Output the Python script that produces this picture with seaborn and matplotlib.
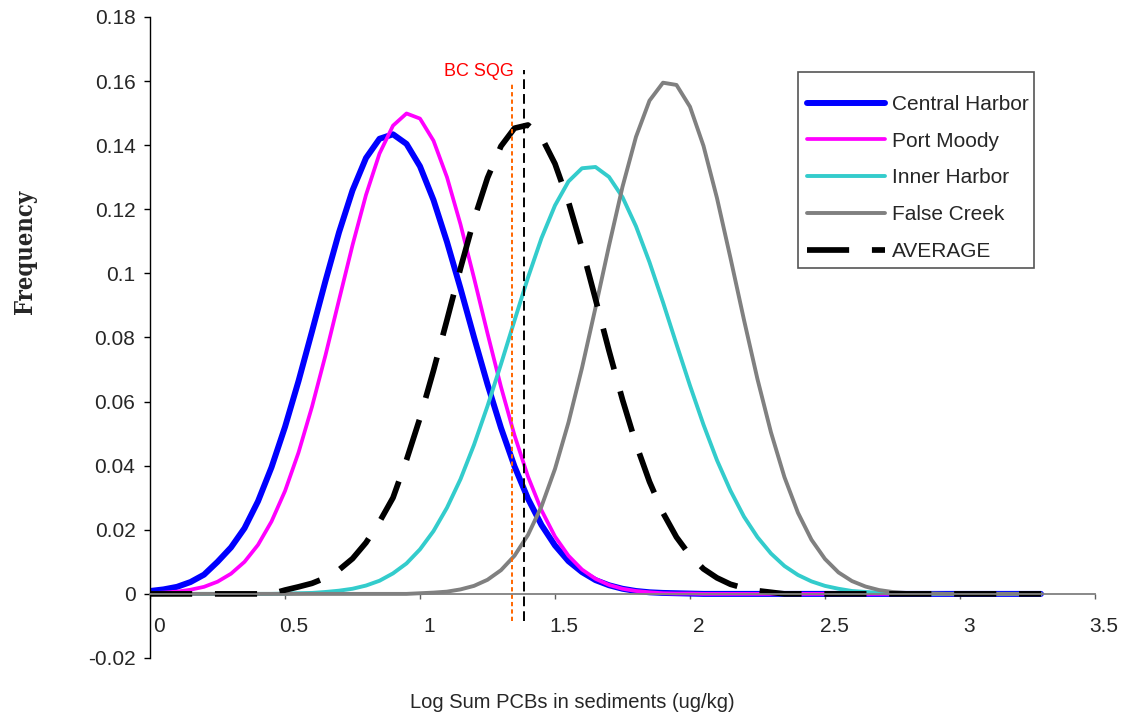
import numpy as np
import matplotlib.pyplot as plt
import matplotlib.transforms as mtransforms
from matplotlib.patches import Rectangle
import seaborn as sns

sns.set_style("white")
plt.rcParams["font.family"] = ["Liberation Sans", "DejaVu Sans"]

# log sum PCB grid (0 to 3.3, step 0.05)
log_pcb = np.linspace(0, 3.3, 67)

central_harbor = [0.0009, 0.0014, 0.0022, 0.0037, 0.0060, 0.0100, 0.0145, 0.0205, 0.0289, 0.0395,
                  0.0521, 0.0664, 0.0819, 0.0977, 0.1128, 0.1259, 0.1360, 0.1420, 0.1434, 0.1404,
                  0.1334, 0.1229, 0.1098, 0.0953, 0.0801, 0.0654, 0.0518, 0.0398, 0.0297, 0.0215,
                  0.0151, 0.0102, 0.0068, 0.0043, 0.0027, 0.0016, 0.0009, 0.0005, 0.0003, 0.0002,
                  0.0001] + [0.0] * 26

port_moody = [0.0002, 0.0004, 0.0007, 0.0013, 0.0022, 0.0038, 0.0063, 0.0100, 0.0153, 0.0226,
              0.0321, 0.0441, 0.0584, 0.0745, 0.0917, 0.1088, 0.1245, 0.1374, 0.1461, 0.1499,
              0.1483, 0.1414, 0.1300, 0.1153, 0.0986, 0.0813, 0.0646, 0.0495, 0.0366, 0.0261,
              0.0179, 0.0119, 0.0076, 0.0047, 0.0028, 0.0016, 0.0009, 0.0005, 0.0002, 0.0001,
              0.0001] + [0.0] * 26

inner_harbor = [0.0] * 10 + [0.0001, 0.0002, 0.0003, 0.0006, 0.0010, 0.0016, 0.0026, 0.0041, 0.0064, 0.0095,
                             0.0139, 0.0196, 0.0269, 0.0358, 0.0465, 0.0586, 0.0717, 0.0853, 0.0987, 0.1110,
                             0.1212, 0.1287, 0.1328, 0.1332, 0.1301, 0.1238, 0.1147, 0.1035, 0.0910, 0.0779,
                             0.0650, 0.0528, 0.0417, 0.0322, 0.0241, 0.0177, 0.0126, 0.0087, 0.0059, 0.0039,
                             0.0025, 0.0016, 0.0009, 0.0006, 0.0003, 0.0002, 0.0001, 0.0001] + [0.0] * 9

false_creek = [0.0] * 20 + [0.0002, 0.0004, 0.0007, 0.0014, 0.0025, 0.0044, 0.0074, 0.0119, 0.0184, 0.0273,
                            0.0390, 0.0535, 0.0705, 0.0893, 0.1086, 0.1270, 0.1426, 0.1539, 0.1595, 0.1588,
                            0.1520, 0.1398, 0.1235, 0.1048, 0.0855, 0.0670, 0.0504, 0.0364, 0.0253, 0.0169,
                            0.0109, 0.0067, 0.0040, 0.0023, 0.0012, 0.0006, 0.0003, 0.0002, 0.0001] + [0.0] * 8

average = [0.0] * 10 + [0.0012, 0.0022, 0.0033, 0.0050, 0.0075, 0.0110, 0.0160, 0.0225, 0.0300, 0.0418,
                        0.0549, 0.0697, 0.0855, 0.1016, 0.1168, 0.1298, 0.1397, 0.1453, 0.1463, 0.1425,
                        0.1342, 0.1223, 0.1079, 0.0920, 0.0759, 0.0606, 0.0468, 0.0350, 0.0253, 0.0177,
                        0.0120, 0.0078, 0.0050, 0.0030, 0.0018, 0.0010, 0.0005] + [0.0] * 20

names = ["Central Harbor", "Port Moody", "Inner Harbor", "False Creek", "AVERAGE"]
x_ticks = [0, 0.5, 1, 1.5, 2, 2.5, 3, 3.5]
x_tick_labels = ["0", "0.5", "1", "1.5", "2", "2.5", "3", "3.5"]
y_ticks = [-0.02, 0, 0.02, 0.04, 0.06, 0.08, 0.1, 0.12, 0.14, 0.16, 0.18]
y_tick_labels = ["-0.02", "0", "0.02", "0.04", "0.06", "0.08", "0.1", "0.12", "0.14", "0.16", "0.18"]

bc_sqg = 1.34          # BC sediment quality guideline
avg_mode = 1.386       # peak of the average curve

fig = plt.figure(figsize=(11.28, 7.17), dpi=100)
ax = fig.add_axes([0.133, 0.0823, 0.8377, 0.894])

styles = [("#0000FF", 4.3), ("#FF00FF", 2.7), ("#33CCCC", 2.8), ("#808080", 2.8), ("#000000", 4.1)]
for vals, (color, lw) in zip([central_harbor, port_moody, inner_harbor, false_creek, average], styles):
    sns.lineplot(x=log_pcb, y=vals, ax=ax, color=color, linewidth=lw,
                 estimator=None, sort=False, legend=False)

avg_line = ax.lines[-1]
avg_line.set_dashes((7.4, 4.0))

# reference lines
ax.vlines(bc_sqg, -0.0085, 0.159, colors="#FF6600", linewidth=1.4, linestyles=(0, (2.2, 1.6)))
ax.vlines(avg_mode, -0.0085, 0.1635, colors="black", linewidth=1.4, linestyles=(0, (5.0, 2.6)))
ax.text(1.22, 0.163, "BC SQG", color="#FF0000", fontsize=13, ha="center", va="center")

ax.set_xlim(0, 3.5)
ax.set_ylim(-0.02, 0.18)
ax.set_xticks(x_ticks)
ax.set_xticklabels(x_tick_labels)
ax.set_yticks(y_ticks)
ax.set_yticklabels(y_tick_labels)
ax.set_xlabel("")
ax.set_ylabel("")
ax.grid(False)

for side in ["top", "right"]:
    ax.spines[side].set_visible(False)
ax.spines["left"].set_color("black")
ax.spines["left"].set_linewidth(1.0)
ax.spines["bottom"].set_position(("data", 0))
ax.spines["bottom"].set_color("#808080")
ax.spines["bottom"].set_linewidth(1.3)

ax.tick_params(axis="y", left=True, direction="out", length=4.5, width=1, color="black",
               pad=6, labelsize=15)
ax.tick_params(axis="x", bottom=True, direction="out", length=3.6, width=1, color="#606060",
               pad=13, labelsize=15)

fig.text(572 / 1128, 1 - 703 / 717, "Log Sum PCBs in sediments (ug/kg)", fontsize=14.5,
         ha="center", va="center")
fig.text(25 / 1128, 1 - 252 / 717, "Frequency", rotation=90, fontsize=17, fontweight="bold",
         family="DejaVu Serif", fontstretch="condensed", ha="center", va="center")

ax.legend(ax.lines[:5], names, loc="upper left",
          bbox_to_anchor=(807 / 1128, 1 - 95 / 717), bbox_transform=fig.transFigure,
          frameon=False, borderpad=0, borderaxespad=0, handlelength=3.75,
          handletextpad=0.33, labelspacing=0.85, fontsize=15)
fig.add_artist(Rectangle((798 / 1128, 1 - 268 / 717), (1034 - 798) / 1128, (268 - 72) / 717,
                         transform=fig.transFigure, fill=False, edgecolor="#555555", linewidth=1.2))

fig.canvas.draw()
offset = mtransforms.ScaledTranslation(0.09, 0, fig.dpi_scale_trans)
for tick in ax.xaxis.get_major_ticks():
    tick.label1.set_transform(tick.label1.get_transform() + offset)

fig.savefig("out.png", dpi=100)
